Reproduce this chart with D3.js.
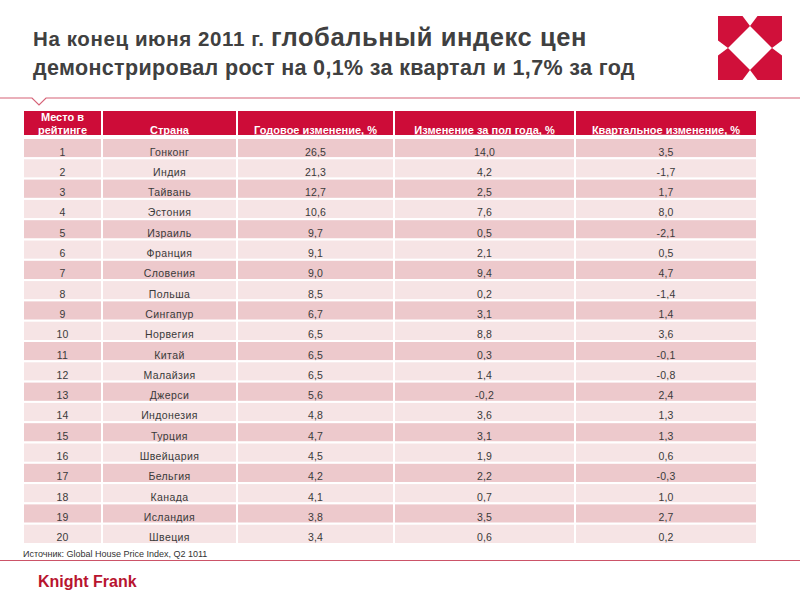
<!DOCTYPE html>
<html><head><meta charset="utf-8">
<script src="https://cdn.jsdelivr.net/npm/d3@7"></script>
<style>html,body{margin:0;padding:0;background:#fff;}svg{display:block;}</style>
</head><body>
<script>
const headers = [["Место в","рейтинге"],["Страна"],["Годовое изменение, %"],["Изменение за пол года, %"],["Квартальное изменение, %"]];
const ranks = d3.range(1, 21);
const countries = ["Гонконг","Индия","Тайвань","Эстония","Израиль","Франция","Словения","Польша","Сингапур","Норвегия","Китай","Малайзия","Джерси","Индонезия","Турция","Швейцария","Бельгия","Канада","Исландия","Швеция"];
const annualChange = [26.5,21.3,12.7,10.6,9.7,9.1,9.0,8.5,6.7,6.5,6.5,6.5,5.6,4.8,4.7,4.5,4.2,4.1,3.8,3.4];
const halfYearChange = [14.0,4.2,2.5,7.6,0.5,2.1,9.4,0.2,3.1,8.8,0.3,1.4,-0.2,3.6,3.1,1.9,2.2,0.7,3.5,0.6];
const quarterChange = [3.5,-1.7,1.7,8.0,-2.1,0.5,4.7,-1.4,1.4,3.6,-0.1,-0.8,2.4,1.3,1.3,0.6,-0.3,1.0,2.7,0.2];
const titleLine1a = "На конец июня 2011 г. ";
const titleLine1b = "глобальный индекс цен";
const titleLine2 = "демонстрировал рост на 0,1% за квартал и 1,7% за год";
const sourceText = "Источник: Global House Price Index, Q2 1011";
const brand = "Knight Frank";

const W = 800, H = 600;
const svg = d3.select("body").append("svg").attr("width", W).attr("height", H);
const font = "Arial, 'Liberation Sans', sans-serif";
const fmt = v => v.toFixed(1).replace(".", ",");

// title
const t1 = svg.append("text").attr("x", 33).attr("y", 46).attr("font-family", font).attr("font-weight", "bold").attr("fill", "#404040");
t1.append("tspan").attr("font-size", 20.5).attr("letter-spacing", 0.6).text(titleLine1a);
t1.append("tspan").attr("font-size", 25.5).attr("letter-spacing", 0.6).text(titleLine1b);
svg.append("text").attr("x", 33).attr("y", 75).attr("font-family", font).attr("font-weight", "bold")
  .attr("font-size", 21.5).attr("letter-spacing", 0.35).attr("fill", "#404040").text(titleLine2);

// logo
const logoColor = "#d0103a";
const L = svg.append("g").attr("transform", "translate(718,16)");
const S = 64, a = 24.5, d = 10, c = 32;
const piece = [[0,0],[a,0],[c,d],[d,c],[0,a]];
[0, 90, 180, 270].forEach(r => {
  L.append("polygon").attr("points", piece.map(p => p.join(",")).join(" "))
    .attr("fill", logoColor).attr("transform", `rotate(${r},${S/2},${S/2})`);
});

// top rule with notch
svg.append("path").attr("d", "M0,98 L32,98 L39,105 L46,98 L800,98")
  .attr("fill", "none").attr("stroke", "#d66377").attr("stroke-width", 1.2);

// table
const colEdges = [23, 102, 237, 394, 575, 757];
const x = d3.scaleOrdinal().domain(d3.range(5)).range(colEdges.slice(0, 5));
const colW = i => colEdges[i + 1] - colEdges[i];
const y = d3.scaleBand().domain(ranks).range([138, 138 + 20 * 20.3]).paddingInner(0);

// header
const hdr = svg.append("g");
headers.forEach((h, i) => {
  hdr.append("rect").attr("x", x(i)).attr("y", 110).attr("width", colW(i)).attr("height", 26)
    .attr("fill", "#cd0c38").attr("stroke", "#fff").attr("stroke-width", 2);
  h.forEach((line, k) => {
    const yy = h.length === 2 ? (k === 0 ? 120.5 : 134) : 134;
    const tx = hdr.append("text").attr("x", x(i) + colW(i) / 2).attr("y", yy)
      .attr("text-anchor", "middle").attr("font-family", font).attr("font-weight", "bold")
      .attr("font-size", 11).attr("fill", "#fff").text(line);
    if (k === h.length - 1) {
      const w = tx.node().getComputedTextLength();
      hdr.append("line").attr("x1", x(i) + colW(i) / 2 - w / 2).attr("x2", x(i) + colW(i) / 2 + w / 2)
        .attr("y1", yy + 1.2).attr("y2", yy + 1.2).attr("stroke", "#fff").attr("stroke-width", 0.8);
    }
  });
});

// body
const rows = ranks.map((r, i) => [String(r), countries[i], fmt(annualChange[i]), fmt(halfYearChange[i]), fmt(quarterChange[i])]);
const rowG = svg.append("g").selectAll("g").data(rows).join("g")
  .attr("transform", (d, i) => `translate(0,${y(ranks[i])})`);
rowG.each(function (row, ri) {
  const g = d3.select(this);
  row.forEach((val, ci) => {
    g.append("rect").attr("x", x(ci)).attr("y", 0).attr("width", colW(ci)).attr("height", y.bandwidth())
      .attr("fill", ri % 2 === 0 ? "#edc9cc" : "#f6e4e5").attr("stroke", "#fff").attr("stroke-width", 2);
    g.append("text").attr("x", x(ci) + colW(ci) / 2).attr("y", 17.6)
      .attr("text-anchor", "middle").attr("font-family", font).attr("font-size", 10.5)
      .attr("letter-spacing", ci === 1 ? 0.4 : 0.2).attr("fill", "#3a3a3a").text(val);
  });
});

// source
svg.append("text").attr("x", 23).attr("y", 556.5).attr("font-family", font).attr("font-size", 9)
  .attr("fill", "#333").text(sourceText);

// bottom rule
svg.append("line").attr("x1", 0).attr("x2", 800).attr("y1", 560.5).attr("y2", 560.5)
  .attr("stroke", "#cc5468").attr("stroke-width", 1.2);

// brand
svg.append("text").attr("x", 38).attr("y", 587).attr("font-family", font).attr("font-weight", "bold")
  .attr("font-size", 16).attr("fill", "#b8142f").text(brand);
</script>
</body></html>
